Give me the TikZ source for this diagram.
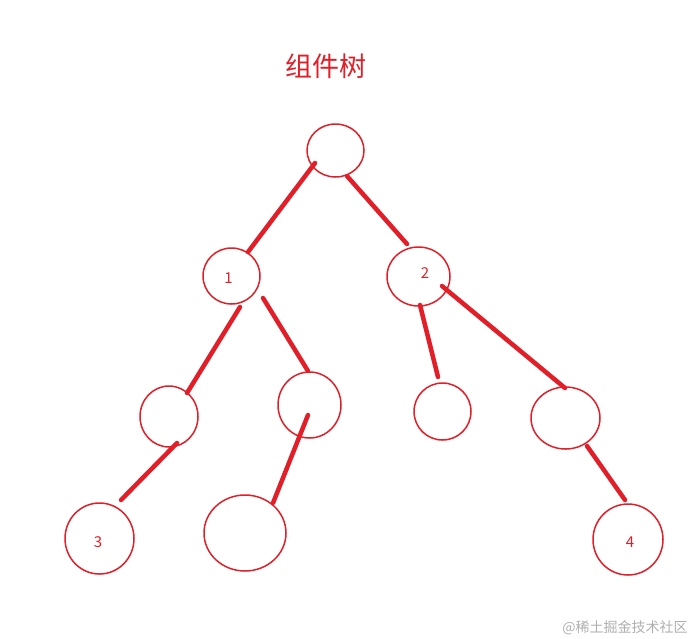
\documentclass[tikz,border=0pt]{standalone}
\usepackage{fontspec}
\setmainfont{Noto Sans CJK SC}
\usetikzlibrary{shapes.geometric}
\definecolor{tred}{RGB}{226,30,40}
\definecolor{wgray}{RGB}{175,175,175}
\tikzset{
  tnode/.style={draw=tred, line width=1.5pt, ellipse, inner sep=0pt},
  edge/.style={draw=tred, line width=4.5pt, line cap=round},
  lbl/.style={text=tred, font=\fontsize{15}{15}\selectfont, inner sep=0pt},
}
\begin{document}
\begin{tikzpicture}[x=1pt,y=-1pt]
\useasboundingbox (0,0) rectangle (695,638);
\node[text=tred, font=\fontsize{27}{27}\selectfont, inner sep=0pt] (title) at (325.5,66) {组件树};
\node[text=wgray, font=\fontsize{14}{14}\selectfont, inner sep=0pt] (wm) at (625,628) {@稀土掘金技术社区};
% nodes
\node[tnode, minimum width=57pt, minimum height=53pt] (r)  at (335.5,150.5) {};
\node[tnode, minimum width=57pt, minimum height=56pt] (n1) at (231.5,276) {};
\node[tnode, minimum width=63pt, minimum height=59pt] (n2) at (418.5,276.5) {};
\node[tnode, minimum width=58pt, minimum height=61pt] (a)  at (169,416.5) {};
\node[tnode, minimum width=63pt, minimum height=66pt] (b)  at (309.5,405) {};
\node[tnode, minimum width=57pt, minimum height=57pt] (c)  at (442.5,411.5) {};
\node[tnode, minimum width=69pt, minimum height=62pt] (d)  at (565.5,418) {};
\node[tnode, minimum width=69pt, minimum height=71pt] (n3) at (99.5,538.5) {};
\node[tnode, minimum width=82pt, minimum height=76pt] (e)  at (245,533) {};
\node[tnode, minimum width=70pt, minimum height=71pt] (n4) at (628,539.5) {};
% labels
\node[lbl] (t1) at (228.5,278) {1};
\node[lbl] (t2) at (425,273) {2};
\node[lbl] (t3) at (98,542) {3};
\node[lbl] (t4) at (630,542) {4};
% edges
\draw[edge] ([shift={(-20.5,12.5)}]r.center) -- ([shift={(16.5,-24)}]n1.center);
\draw[edge] ([shift={(11.5,25.5)}]r.center) -- ([shift={(-11.5,-32.5)}]n2.center);
\draw[edge] ([shift={(8.5,31)}]n1.center) -- ([shift={(18,-23.5)}]a.center);
\draw[edge] ([shift={(31.5,22)}]n1.center) -- ([shift={(-1.5,-34)}]b.center);
\draw[edge] ([shift={(1.5,28.5)}]n2.center) -- ([shift={(-4.5,-34.5)}]c.center);
\draw[edge] ([shift={(23.5,9.5)}]n2.center) -- ([shift={(-0.5,-30)}]d.center);
\draw[edge] ([shift={(8,26.5)}]a.center) -- ([shift={(21.5,-38.5)}]n3.center);
\draw[edge] ([shift={(-1.5,10)}]b.center) -- ([shift={(28,-30)}]e.center);
\draw[edge] ([shift={(21.5,28)}]d.center) -- ([shift={(-3,-39.5)}]n4.center);
\end{tikzpicture}
\end{document}
